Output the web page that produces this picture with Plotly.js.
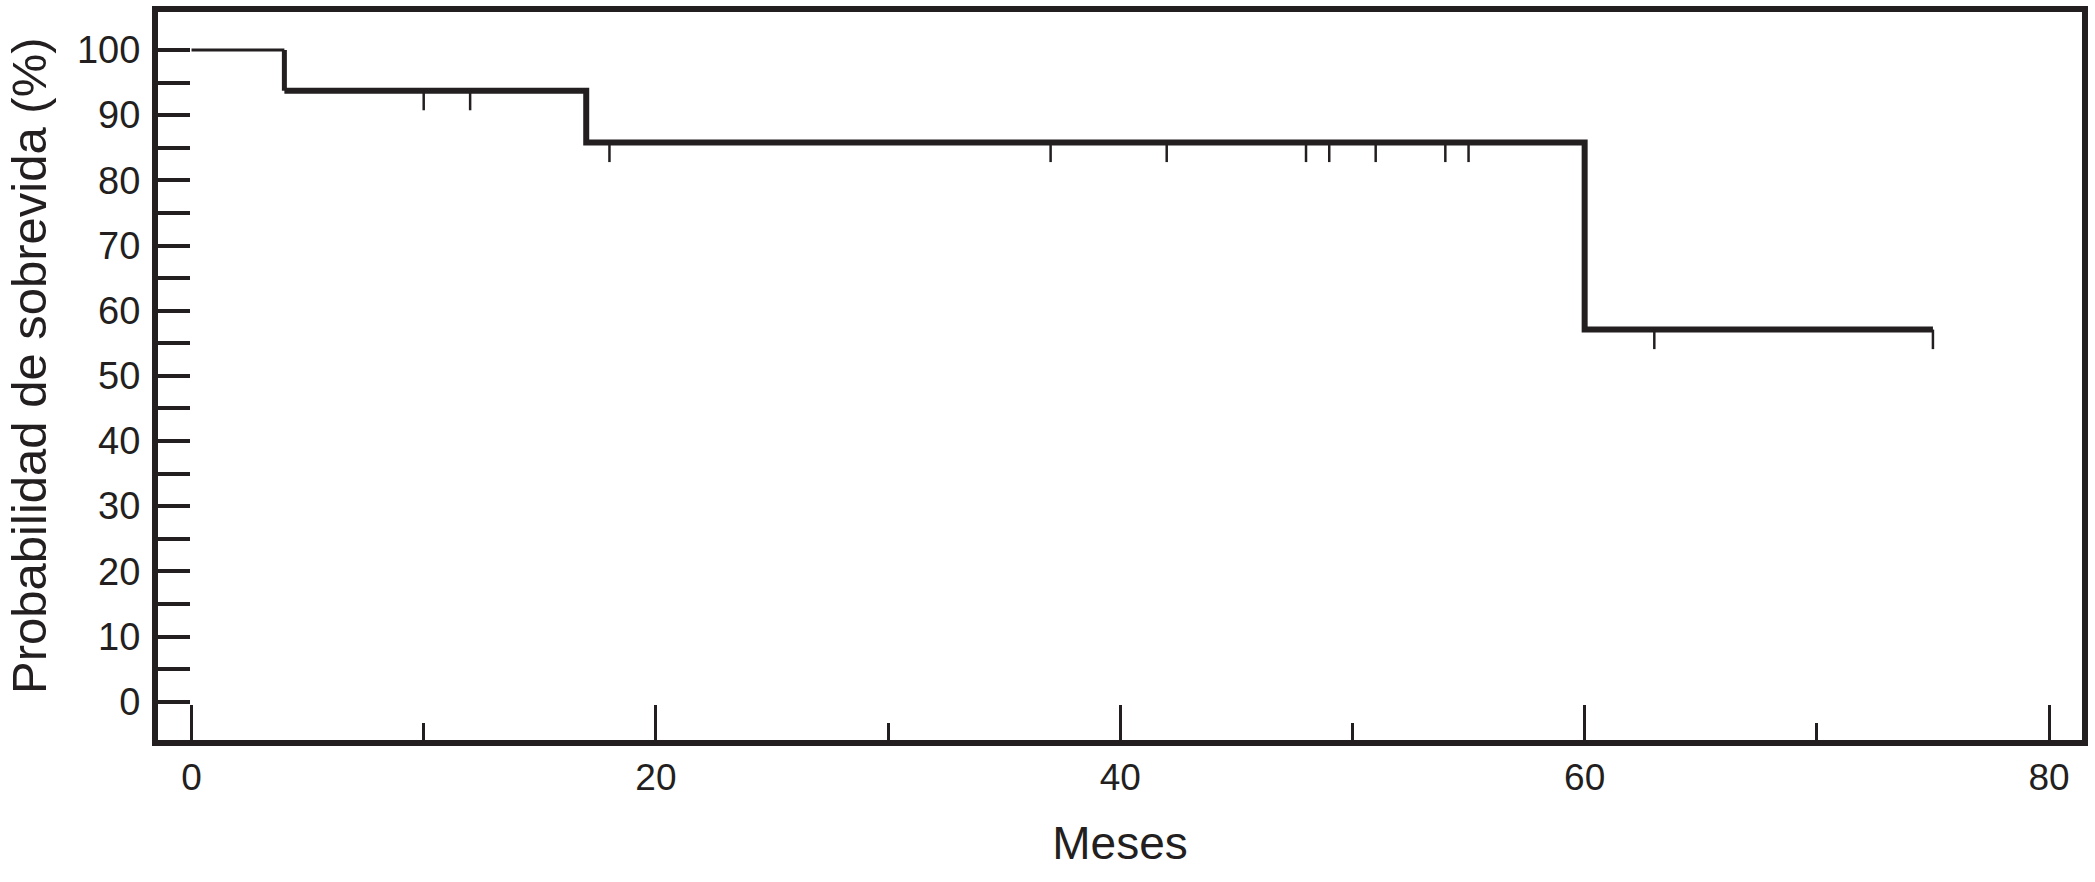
<!DOCTYPE html>
<html>
<head>
<meta charset="utf-8">
<script src="https://cdn.plot.ly/plotly-3.0.1.min.js"></script>
<style>html,body{margin:0;padding:0;background:#fff;}#chart{width:2095px;height:882px;}</style>
</head>
<body>
<div id="chart"></div>
<script>
// Kaplan-Meier survival estimate
const stepTimes  = [0, 4, 17, 60, 75];            // months: start, event times, end of follow-up
const stepLevels = [100, 93.75, 85.8, 57.1, 57.1]; // survival (%) from each time onward
const censorTimes = [10, 12, 18, 37, 42, 48, 49, 51, 54, 55, 63, 75];
const xTickVals = [0, 20, 40, 60, 80];
const xTickText = ['0', '20', '40', '60', '80'];
const xMinorTickVals = [10, 30, 50, 70];
const yTickVals = [0, 10, 20, 30, 40, 50, 60, 70, 80, 90, 100];
const yTickText = ['0', '10', '20', '30', '40', '50', '60', '70', '80', '90', '100'];
const yMinorTickVals = [5, 15, 25, 35, 45, 55, 65, 75, 85, 95];
const xTitle = 'Meses';
const yTitle = 'Probabilidad de sobrevida (%)';

const INK = '#231f20';

function survivalAt(t) {
  let s = stepLevels[0];
  for (let i = 0; i < stepTimes.length; i++) {
    if (stepTimes[i] <= t) s = stepLevels[i];
  }
  return s;
}

// censor marks hang below the curve
const CENSOR_DROP = 3;
const cx = [], cy = [];
censorTimes.forEach(t => {
  const s = survivalAt(t);
  cx.push(t, t, null);
  cy.push(s, s - CENSOR_DROP, null);
});

const traces = [
  { // initial plateau, drawn thinner as in the original
    x: stepTimes.slice(0, 2), y: [stepLevels[0], stepLevels[0]], type: 'scatter', mode: 'lines',
    line: {color: INK, width: 3},
    hoverinfo: 'x+y', showlegend: false
  },
  {
    x: stepTimes.slice(1), y: stepLevels.slice(1), type: 'scatter', mode: 'lines',
    line: {shape: 'hv', color: INK, width: 6},
    hoverinfo: 'x+y', showlegend: false
  },
  { // vertical drop at the first event
    x: [stepTimes[1], stepTimes[1]], y: [stepLevels[0], stepLevels[1]], type: 'scatter', mode: 'lines',
    line: {color: INK, width: 5},
    hoverinfo: 'skip', showlegend: false
  },
  {
    x: cx, y: cy, type: 'scatter', mode: 'lines',
    line: {color: INK, width: 2.5},
    hoverinfo: 'skip', showlegend: false
  }
];

const FONT = 'Liberation Sans, Arial, Helvetica, sans-serif';

const layout = {
  width: 2095, height: 882,
  margin: {l: 158, r: 13, t: 12, b: 142, pad: 0},
  paper_bgcolor: '#ffffff', plot_bgcolor: '#ffffff',
  showlegend: false,
  font: {family: FONT, color: INK},
  xaxis: {
    range: [-1.443, 81.42], autorange: false,
    showgrid: false, zeroline: false,
    showline: true, linecolor: INK, linewidth: 6, mirror: true,
    ticks: 'inside', ticklen: 35, tickwidth: 3, tickcolor: INK,
    tickmode: 'array', tickvals: xTickVals, ticktext: xTickText,
    minor: {ticks: 'inside', ticklen: 17, tickwidth: 3, tickcolor: INK, tickmode: 'array', tickvals: xMinorTickVals, showgrid: false},
    tickfont: {family: FONT, size: 37, color: INK},
    title: {text: xTitle, font: {family: FONT, size: 46, color: INK}, standoff: 31},
    automargin: false, fixedrange: true
  },
  yaxis: {
    range: [-5.88, 105.83], autorange: false,
    showgrid: false, zeroline: false,
    showline: true, linecolor: INK, linewidth: 6, mirror: true,
    ticks: 'inside', ticklen: 32, tickwidth: 4, tickcolor: INK,
    tickmode: 'array', tickvals: yTickVals, ticktext: yTickText,
    minor: {ticks: 'inside', ticklen: 32, tickwidth: 4, tickcolor: INK, tickmode: 'array', tickvals: yMinorTickVals, showgrid: false},
    tickfont: {family: FONT, size: 38, color: INK},
    ticklabelstandoff: 4,
    automargin: false, fixedrange: true
  },
  annotations: [{
    text: yTitle, textangle: -90,
    xref: 'paper', yref: 'paper', x: -0.067, y: 0.514,
    xanchor: 'center', yanchor: 'middle', showarrow: false,
    font: {family: FONT, size: 49, color: INK}
  }]
};

Plotly.newPlot('chart', traces, layout, {displayModeBar: false, staticPlot: true});
</script>
</body>
</html>
